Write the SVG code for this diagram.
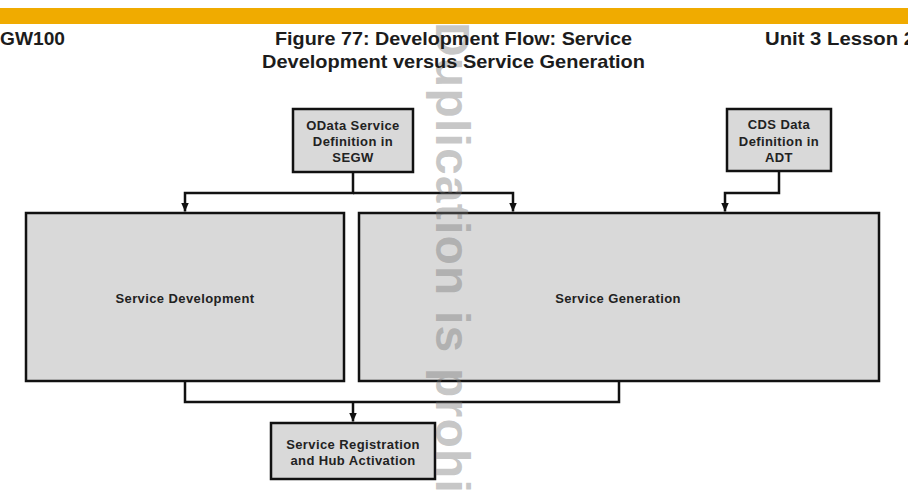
<svg xmlns="http://www.w3.org/2000/svg" width="908" height="492" viewBox="0 0 908 492">
<style>
.bg{fill:#ffffff}
.bar{fill:#f0ab00}
.hdr{font-family:"Liberation Sans",Arial,sans-serif;font-weight:bold;font-size:19px;fill:#1c1c1c}
.box{fill:#d9d9d9;stroke:#111;stroke-width:2.5}
.lbl{font-family:"Liberation Sans",Arial,sans-serif;font-weight:bold;font-size:13px;fill:#222;text-anchor:middle;letter-spacing:0.4px}
.conn{fill:none;stroke:#111;stroke-width:2.5}
.wm{font-family:"Liberation Sans",Arial,sans-serif;font-weight:bold;font-size:48px;fill:#777;fill-opacity:0.42;letter-spacing:1.2px}
</style>
<defs>
<marker id="arr" viewBox="0 0 9 8" markerWidth="9" markerHeight="8" refX="9" refY="4" orient="auto" markerUnits="userSpaceOnUse">
<path d="M0,0 L9,4 L0,8 z" fill="#111"/>
</marker>
</defs>
<rect class="bg" x="0" y="0" width="908" height="492"/>
<rect class="bar" x="0" y="8" width="908" height="16"/>

<g id="node-sd">
<rect class="box" x="26" y="213" width="318" height="168"/>
<text class="lbl" x="185" y="303">Service Development</text>
</g>
<g id="node-sg">
<rect class="box" x="359" y="213" width="520" height="168"/>
<text class="lbl" x="618" y="303">Service Generation</text>
</g>
<g id="node-odata">
<rect class="box" x="293" y="109" width="120" height="63"/>
<text class="lbl" x="353" y="129.5">OData Service</text>
<text class="lbl" x="353" y="146">Definition in</text>
<text class="lbl" x="353" y="162">SEGW</text>
</g>
<g id="node-cds">
<rect class="box" x="727" y="109" width="104" height="62"/>
<text class="lbl" x="779" y="129">CDS Data</text>
<text class="lbl" x="779" y="146">Definition in</text>
<text class="lbl" x="779" y="162">ADT</text>
</g>
<g id="node-reg">
<rect class="box" x="271" y="423" width="164" height="56"/>
<text class="lbl" x="353" y="449">Service Registration</text>
<text class="lbl" x="353" y="465">and Hub Activation</text>
</g>

<g id="connectors">
<path class="conn" d="M353,172 V193 H185 V211.5" marker-end="url(#arr)"/>
<path class="conn" d="M353,193 H513 V211.5" marker-end="url(#arr)"/>
<path class="conn" d="M779,171 V193 H725 V211.5" marker-end="url(#arr)"/>
<path class="conn" d="M185,381 V402 H619 V381"/>
<path class="conn" d="M353,402 V421.5" marker-end="url(#arr)"/>
</g>

<text class="wm" transform="translate(436,22) rotate(90)">Duplication is prohibited</text>

<g id="header">
<text class="hdr" x="0" y="45" textLength="65" lengthAdjust="spacingAndGlyphs">GW100</text>
<text class="hdr" x="275" y="45" textLength="357" lengthAdjust="spacingAndGlyphs">Figure 77: Development Flow: Service</text>
<text class="hdr" x="262" y="68" textLength="383" lengthAdjust="spacingAndGlyphs">Development versus Service Generation</text>
<text class="hdr" x="765" y="45" textLength="150" lengthAdjust="spacingAndGlyphs">Unit 3 Lesson 2</text>
</g>
</svg>
